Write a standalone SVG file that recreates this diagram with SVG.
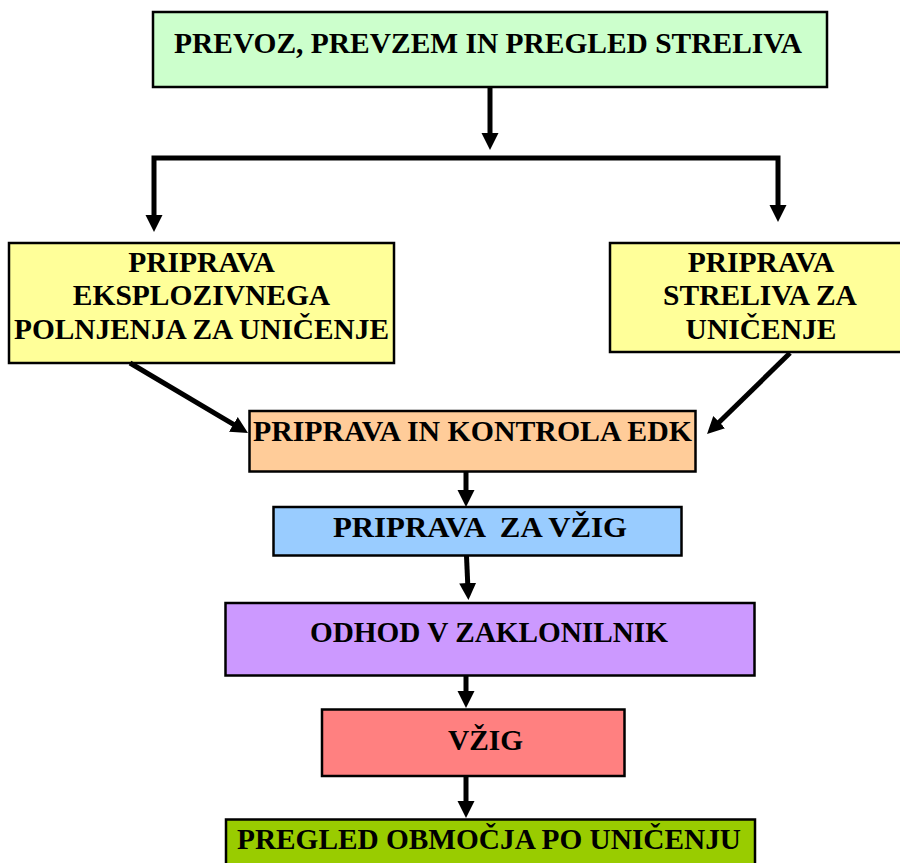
<svg xmlns="http://www.w3.org/2000/svg" width="900" height="863" viewBox="0 0 900 863">
  <style>
    .box { stroke: #000; stroke-width: 2.5; }
    .lbl { font-family: "Liberation Serif", "Times New Roman", serif; font-weight: bold; font-size: 29.5px; fill: #000; }
    .conn { fill: none; stroke: #000; stroke-width: 5; stroke-linejoin: miter; marker-end: url(#arr); }
  </style>
  <defs>
    <marker id="arr" markerUnits="userSpaceOnUse" markerWidth="18" markerHeight="18" refX="7" refY="8.5" orient="auto">
      <path d="M0,0 L17,8.5 L0,17 z" fill="#000"/>
    </marker>
  </defs>
  <rect width="900" height="863" fill="#fff"/>

  <g id="n-prevoz">
    <rect class="box" x="153" y="12" width="674" height="75" fill="#CCFFCC"/>
    <text class="lbl" x="174" y="52.5" textLength="628" lengthAdjust="spacingAndGlyphs">PREVOZ, PREVZEM IN PREGLED STRELIVA</text>
  </g>

  <g id="n-eksploziv">
    <rect class="box" x="9" y="243" width="385" height="120" fill="#FFFF99"/>
    <text class="lbl" x="201.5" y="272" text-anchor="middle">PRIPRAVA</text>
    <text class="lbl" x="201.5" y="305" text-anchor="middle">EKSPLOZIVNEGA</text>
    <text class="lbl" x="14" y="339" textLength="375" lengthAdjust="spacingAndGlyphs">POLNJENJA ZA UNIČENJE</text>
  </g>

  <g id="n-strelivo">
    <rect class="box" x="610" y="243" width="304" height="109" fill="#FFFF99"/>
    <text class="lbl" x="761" y="272" text-anchor="middle">PRIPRAVA</text>
    <text class="lbl" x="760" y="305" text-anchor="middle">STRELIVA ZA</text>
    <text class="lbl" x="761" y="339" text-anchor="middle">UNIČENJE</text>
  </g>

  <g id="n-edk">
    <rect class="box" x="249.5" y="411" width="446" height="60.5" fill="#FFCC99"/>
    <text class="lbl" x="253" y="441" textLength="439" lengthAdjust="spacingAndGlyphs">PRIPRAVA IN KONTROLA EDK</text>
  </g>

  <g id="n-vzig-priprava">
    <rect class="box" x="273.5" y="507" width="408" height="48.5" fill="#99CCFF"/>
    <text class="lbl" x="333" y="537" textLength="294" lengthAdjust="spacingAndGlyphs" xml:space="preserve">PRIPRAVA  ZA VŽIG</text>
  </g>

  <g id="n-odhod">
    <rect class="box" x="225.5" y="603" width="529" height="72.5" fill="#CC99FF"/>
    <text class="lbl" x="310" y="642" textLength="358" lengthAdjust="spacingAndGlyphs">ODHOD V ZAKLONILNIK</text>
  </g>

  <g id="n-vzig">
    <rect class="box" x="322" y="709.5" width="302.5" height="66.5" fill="#FF8080"/>
    <text class="lbl" x="448" y="750" textLength="75" lengthAdjust="spacingAndGlyphs">VŽIG</text>
  </g>

  <g id="n-pregled">
    <rect class="box" x="226" y="819.5" width="529" height="60" fill="#99CC00"/>
    <text class="lbl" x="237" y="849" textLength="504" lengthAdjust="spacingAndGlyphs">PREGLED OBMOČJA PO UNIČENJU</text>
  </g>

  <g id="connectors">
    <path class="conn" d="M490,88 V140"/>
    <path class="conn" d="M490,158 H154 V222"/>
    <path class="conn" d="M490,158 H778 V212"/>
    <path class="conn" d="M130,363 L239.4,427.9"/>
    <path class="conn" d="M790,353 L714.2,427"/>
    <path class="conn" d="M466,472 V497"/>
    <path class="conn" d="M466.5,556 L468,590"/>
    <path class="conn" d="M466,676 V698"/>
    <path class="conn" d="M466,777 V808"/>
  </g>
</svg>
